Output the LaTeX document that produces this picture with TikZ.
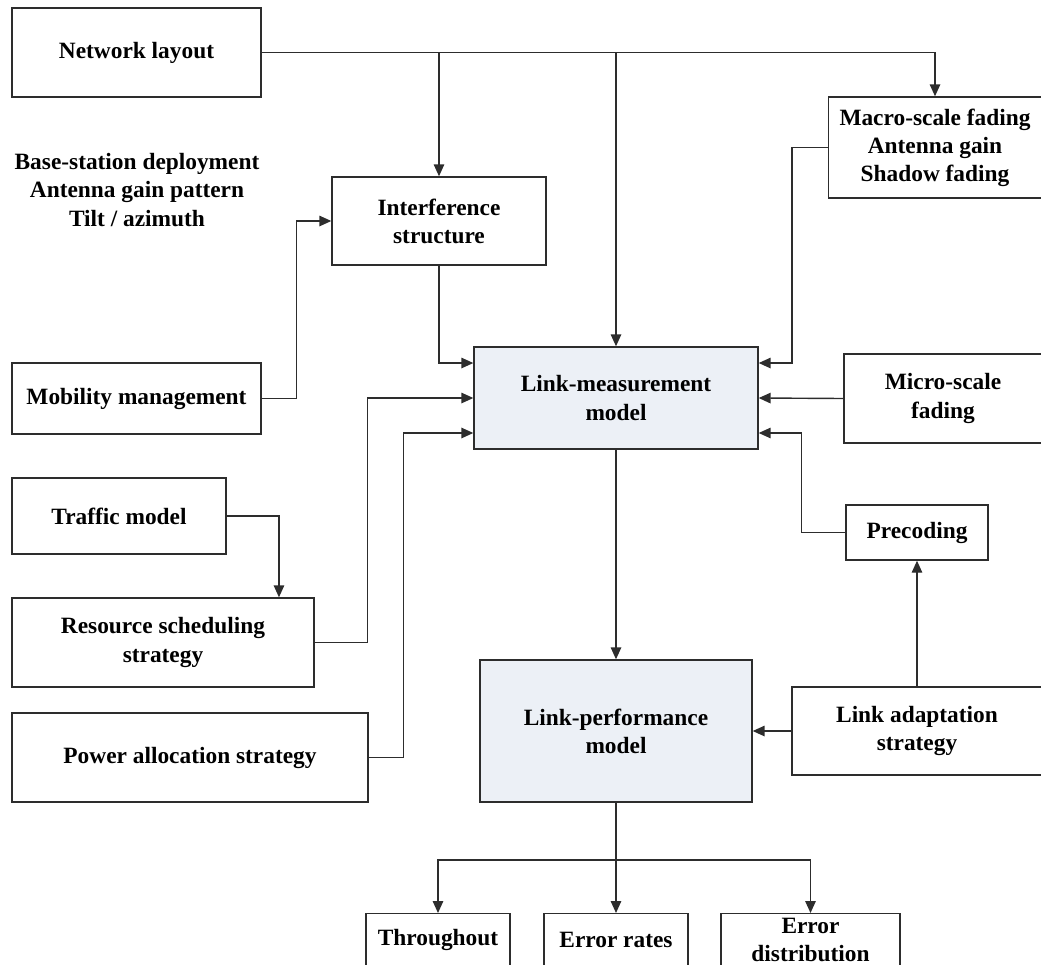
\documentclass[tikz,border=0pt]{standalone}
\usepackage{fontspec}
\setmainfont{Liberation Serif}
\usetikzlibrary{arrows.meta,positioning,calc}
\definecolor{ink}{RGB}{45,45,45}
\definecolor{mist}{RGB}{236,240,246}
\tikzset{
  >={Triangle[length=2.4mm,width=2.1mm]},
  box/.style={draw=ink,fill=#1,line width=0.8pt,align=center,inner sep=0pt,
    font=\fontsize{13.3}{16}\selectfont\bfseries},
  box/.default=white,
  tag/.style={align=center,font=\fontsize{13.3}{16}\selectfont\bfseries},
  flow/.style={->,line width=0.8pt,draw=#1},
  flow/.default=ink,
}

\begin{document}
\begin{tikzpicture}[x=0.02cm,y=-0.02cm]
        \useasboundingbox (0,0) rectangle (1041,964);
        % inputs on the left
        \node[box,minimum width=4.98cm,minimum height=1.78cm] (net) at (136.5,52.5) {Network layout};
        \node[tag] (bs) at (137,190) {Base-station deployment\\Antenna gain pattern\\Tilt / azimuth};
        \node[box,minimum width=4.28cm,minimum height=1.76cm] (intf) at (439,221) {Interference\\structure};
        \node[box,minimum width=4.98cm,minimum height=1.42cm] (mob) at (136.5,398.5) {Mobility management};
        \node[box,minimum width=4.28cm,minimum height=1.52cm] (traf) at (119,516) {Traffic model};
        \node[box,minimum width=6.04cm,minimum height=1.78cm] (sched) at (163,642.5) {Resource scheduling\\strategy};
        \node[box,minimum width=7.12cm,minimum height=1.78cm] (power) at (190,757.5) {Power allocation strategy};
        % models in the middle
        \node[box=mist,minimum width=5.68cm,minimum height=2.04cm] (lmm) at (616,398) {Link-measurement\\model};
        \node[box=mist,minimum width=5.44cm,minimum height=2.84cm] (lpm) at (616,731) {Link-performance\\model};
        % inputs on the right
        \node[box,minimum width=4.26cm,minimum height=2.02cm] (macro) at (935,147.5) {Macro-scale fading\\Antenna gain\\Shadow fading};
        \node[box,minimum width=3.96cm,minimum height=1.78cm] (micro) at (943,398.5) {Micro-scale\\fading};
        \node[box,minimum width=2.84cm,minimum height=1.1cm] (prec) at (917,532.5) {Precoding};
        \node[box,minimum width=5cm,minimum height=1.76cm] (adapt) at (917,731) {Link adaptation\\strategy};
        % outputs, cut by the lower edge
        \node[box,minimum width=2.88cm,minimum height=1.06cm,anchor=north] (thru) at (438,913) {Throughout};
        \node[box,minimum width=2.88cm,minimum height=1.06cm,anchor=north] (rate) at (616,913) {Error rates};
        \node[box,minimum width=3.58cm,minimum height=1.06cm,anchor=north] (dist) at (810.5,913) {Error\\distribution};
        \coordinate (split) at (616,860);

        \draw[flow] (net.east) -| (macro.north);
        \draw[flow] (intf.north |- net.east) -- (intf.north);
        \draw[flow] (lmm.north |- net.east) -- (lmm.north);
        \draw[flow] (mob.east) -- ++(35,0) |- (intf.west);
        \draw[flow] (intf.south) |- ([yshift=0.7cm]lmm.west);
        \draw[flow] (sched.east) -- ++(53,0) |- (lmm.west);
        \draw[flow] (power.east) -- ++(35,0) |- ([yshift=-0.7cm]lmm.west);
        \draw[flow] (traf.east) -| ([xshift=2.32cm]sched.north);
        \draw[flow] (macro.west) -- ++(-36,0) |- ([yshift=0.7cm]lmm.east);
        \draw[flow] (micro.west) -- (lmm.east);
        \draw[flow] (prec.west) -- ++(-44,0) |- ([yshift=-0.7cm]lmm.east);
        \draw[flow] (adapt.north) -- (prec.south);
        \draw[flow] (adapt.west) -- (lpm.east);
        \draw[flow] (lmm.south) -- (lpm.north);
        \draw[line width=0.8pt,ink] (lpm.south) -- (split);
        \draw[flow] (split) -| (thru.north);
        \draw[flow] (split) -- (rate.north);
        \draw[flow] (split) -| (dist.north);
      \end{tikzpicture}
\end{document}
